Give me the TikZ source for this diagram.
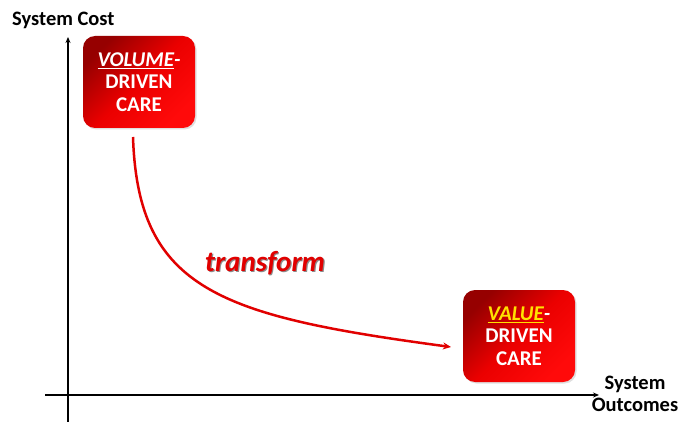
\documentclass[tikz,border=0pt]{standalone}
\usepackage{fontspec}
\setmainfont{Carlito}
\usetikzlibrary{arrows.meta,shadows}
\definecolor{curvered}{RGB}{225,0,0}
\definecolor{darkred}{RGB}{150,0,0}
\definecolor{brightred}{RGB}{255,10,10}
\definecolor{valyellow}{RGB}{255,225,0}
\begin{document}
\begin{tikzpicture}[x=1pt,y=-1pt,
  axis/.style={line width=1.6pt,black,-{Stealth[length=6pt,width=5pt]}},
  carebox/.style={rounded corners=12pt,minimum width=112pt,minimum height=92pt,
    top color=darkred,bottom color=brightred,middle color=red!92!black,shading angle=45,
    drop shadow={shadow xshift=1.5pt,shadow yshift=-1.5pt,opacity=0.25},
    text=white,align=center,font=\fontsize{21}{22.5}\selectfont\bfseries,inner sep=0pt},
  axlabel/.style={font=\fontsize{20.5}{22}\selectfont\bfseries,text=black,inner sep=0pt},
  curve/.style={line width=2.5pt,curvered,-{Stealth[length=8pt,width=7pt]}}
]
\useasboundingbox (0,0) rectangle (679,422);
\fill[white] (0,0) rectangle (679,422);
% axes
\coordinate (ybot) at (68,422);
\coordinate (ytop) at (68,37);
\coordinate (xleft) at (45,395);
\coordinate (xright) at (599,395);
\draw[axis] (ybot) -- (ytop);
\draw[axis] (xleft) -- (xright);
\node[axlabel,anchor=west] (ylab) at (12,20) {System Cost};
\node[axlabel,align=center] (xlab) at (635,394) {System\\Outcomes};
% boxes
\node[carebox] (volume) at (139,82) {\textit{\underline{VOLUME}-}\\DRIVEN\\CARE};
\node[carebox] (value) at (519,336) {\textit{\textcolor{valyellow}{\underline{VALUE}}-}\\DRIVEN\\CARE};
% curve
\coordinate (cstart) at (133,137);
\coordinate (cend) at (451,347);
\draw[curve] (cstart) .. controls (138,290) and (220,316) .. (cend);
% label
\node[font=\fontsize{29}{30}\selectfont\bfseries\itshape,text=black!45,inner sep=0pt] (tshadow) at (266.2,264.2) {transform};
\node[font=\fontsize{29}{30}\selectfont\bfseries\itshape,text=curvered,inner sep=0pt] (tlabel) at (265,263) {transform};
\end{tikzpicture}
\end{document}
